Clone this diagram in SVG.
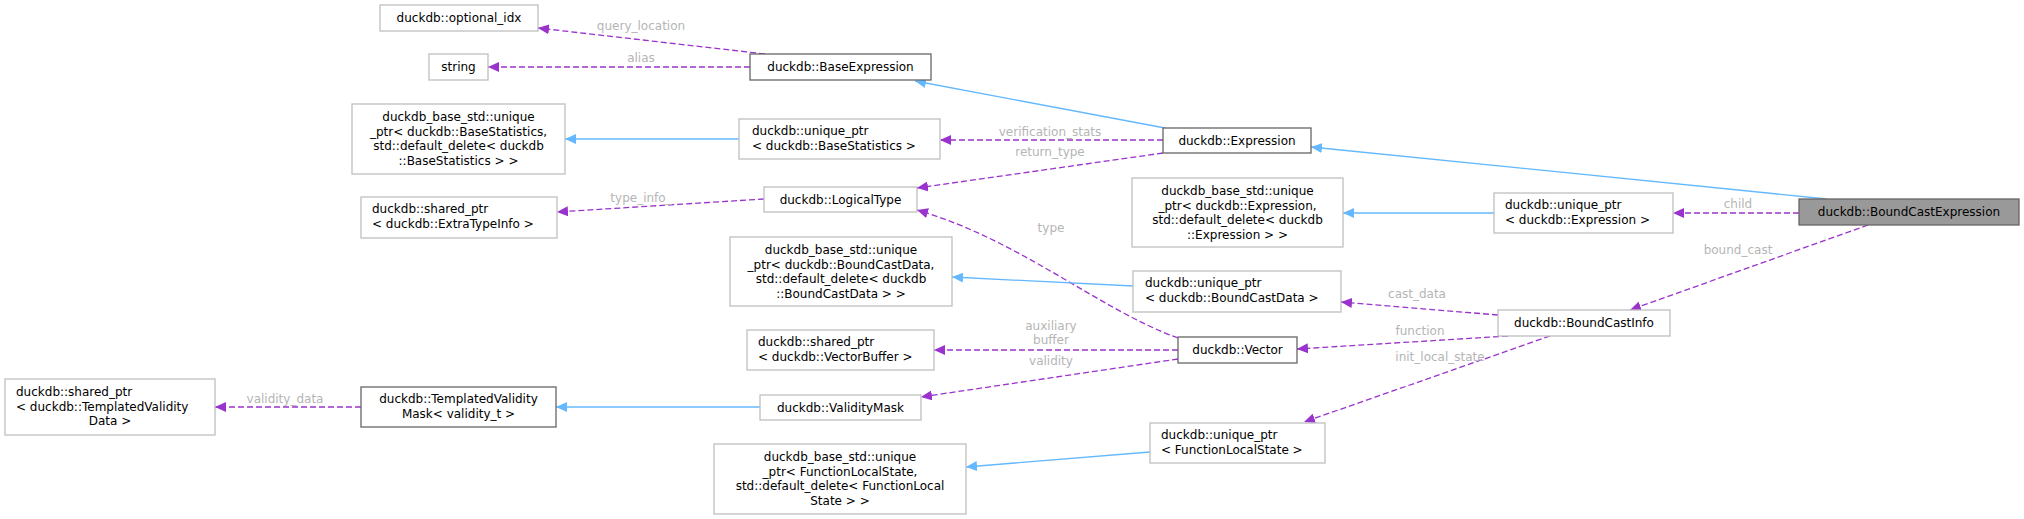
<svg xmlns="http://www.w3.org/2000/svg" width="2024" height="519" viewBox="0 0 2024 519">
<style>
text{font-family:"DejaVu Sans",sans-serif;font-size:12px;fill:#000}
.n rect{fill:#fff;stroke:#bfbfbf;stroke-width:1.3}
.d rect{stroke:#666}
.c{text-anchor:middle}
.e path{fill:none;stroke-width:1.3}
.b{stroke:#63b8ff}
.p{stroke:#9a32cd;stroke-dasharray:6,3}
.l{fill:#b5b5b5;text-anchor:middle}
</style>
<defs>
<marker id="ab" markerWidth="12" markerHeight="10" refX="11" refY="5" orient="auto" markerUnits="userSpaceOnUse"><path d="M0,0 L11,5 L0,10 z" fill="#63b8ff"/></marker>
<marker id="ap" markerWidth="12" markerHeight="10" refX="11" refY="5" orient="auto" markerUnits="userSpaceOnUse"><path d="M0,0 L11,5 L0,10 z" fill="#9a32cd"/></marker>
</defs>
<g class="e">
<path class="b" d="M1165,128 L915,81" marker-end="url(#ab)"/>
<path class="b" d="M1827,199 L1311,147" marker-end="url(#ab)"/>
<path class="p" d="M1163,140 L940,140" marker-end="url(#ap)"/>
<path class="p" d="M1163,153 L917,188" marker-end="url(#ap)"/>
<path class="b" d="M739,139 L565,139" marker-end="url(#ab)"/>
<path class="p" d="M764,199 L557,212" marker-end="url(#ap)"/>
<path class="p" d="M765,54 L538,28" marker-end="url(#ap)"/>
<path class="p" d="M750,67 L488,67" marker-end="url(#ap)"/>
<path class="p" d="M1178,338 C1100,310 1020,240 917,210" marker-end="url(#ap)"/>
<path class="b" d="M1133,286 L952,277" marker-end="url(#ab)"/>
<path class="p" d="M1178,350 L934,350" marker-end="url(#ap)"/>
<path class="p" d="M1178,359 L921,397" marker-end="url(#ap)"/>
<path class="b" d="M760,407 L556,407" marker-end="url(#ab)"/>
<path class="p" d="M361,407 L215,407" marker-end="url(#ap)"/>
<path class="b" d="M1150,452 L966,467" marker-end="url(#ab)"/>
<path class="b" d="M1494,213 L1343,213" marker-end="url(#ab)"/>
<path class="p" d="M1799,213 L1673,213" marker-end="url(#ap)"/>
<path class="p" d="M1868,225 L1630,310" marker-end="url(#ap)"/>
<path class="p" d="M1498,315 L1341,302" marker-end="url(#ap)"/>
<path class="p" d="M1508,336 L1297,349" marker-end="url(#ap)"/>
<path class="p" d="M1550,336 L1304,422" marker-end="url(#ap)"/>
<text class="l" x="1050" y="136">verification_stats</text>
<text class="l" x="1050" y="156">return_type</text>
<text class="l" x="641" y="202">type_info_</text>
<text class="l" x="641" y="30">query_location</text>
<text class="l" x="641" y="62">alias</text>
<text class="l" x="1051" y="232">type</text>
<text class="l" x="1051" y="330">auxiliary</text>
<text class="l" x="1051" y="344">buffer</text>
<text class="l" x="1051" y="365">validity</text>
<text class="l" x="285" y="403">validity_data</text>
<text class="l" x="1738" y="208">child</text>
<text class="l" x="1738" y="254">bound_cast</text>
<text class="l" x="1417" y="298">cast_data</text>
<text class="l" x="1420" y="335">function</text>
<text class="l" x="1440" y="361">init_local_state</text>
</g>
<g id="n1" class="n"><rect x="380" y="5" width="158" height="26"/><text class="c" x="459" y="22">duckdb::optional_idx</text></g>
<g id="n2" class="n"><rect x="429" y="54" width="59" height="26"/><text class="c" x="458.5" y="71">string</text></g>
<g id="n3" class="n d"><rect x="750" y="54" width="181" height="26"/><text class="c" x="840.5" y="71">duckdb::BaseExpression</text></g>
<g id="n4" class="n"><rect x="352" y="104" width="213" height="70"/><text class="c" x="458.5" y="121">duckdb_base_std::unique</text><text class="c" x="458.5" y="135.5">_ptr&lt; duckdb::BaseStatistics,</text><text class="c" x="458.5" y="150">std::default_delete&lt; duckdb</text><text class="c" x="458.5" y="164.5">::BaseStatistics &gt; &gt;</text></g>
<g id="n5" class="n"><rect x="739" y="119" width="201" height="40"/><text x="752" y="135">duckdb::unique_ptr</text><text x="752" y="150">&lt; duckdb::BaseStatistics &gt;</text></g>
<g id="n6" class="n d"><rect x="1163" y="128" width="148" height="25"/><text class="c" x="1237" y="145">duckdb::Expression</text></g>
<g id="n7" class="n"><rect x="361" y="197" width="196" height="41"/><text x="372" y="213">duckdb::shared_ptr</text><text x="372" y="228">&lt; duckdb::ExtraTypeInfo &gt;</text></g>
<g id="n8" class="n"><rect x="764" y="187" width="153" height="25"/><text class="c" x="840.5" y="204">duckdb::LogicalType</text></g>
<g id="n9" class="n"><rect x="1132" y="178" width="211" height="69"/><text class="c" x="1237.5" y="195">duckdb_base_std::unique</text><text class="c" x="1237.5" y="209.5">_ptr&lt; duckdb::Expression,</text><text class="c" x="1237.5" y="224">std::default_delete&lt; duckdb</text><text class="c" x="1237.5" y="238.5">::Expression &gt; &gt;</text></g>
<g id="n10" class="n"><rect x="1494" y="193" width="179" height="40"/><text x="1505" y="209">duckdb::unique_ptr</text><text x="1505" y="224">&lt; duckdb::Expression &gt;</text></g>
<g id="n11" class="n d"><rect x="1799" y="199" width="220" height="26" style="fill:#999"/><text class="c" x="1909" y="216">duckdb::BoundCastExpression</text></g>
<g id="n12" class="n"><rect x="730" y="237" width="222" height="69"/><text class="c" x="841" y="254">duckdb_base_std::unique</text><text class="c" x="841" y="268.5">_ptr&lt; duckdb::BoundCastData,</text><text class="c" x="841" y="283">std::default_delete&lt; duckdb</text><text class="c" x="841" y="297.5">::BoundCastData &gt; &gt;</text></g>
<g id="n13" class="n"><rect x="1133" y="271" width="208" height="41"/><text x="1145" y="287">duckdb::unique_ptr</text><text x="1145" y="302">&lt; duckdb::BoundCastData &gt;</text></g>
<g id="n14" class="n"><rect x="1498" y="310" width="172" height="26"/><text class="c" x="1584" y="327">duckdb::BoundCastInfo</text></g>
<g id="n15" class="n"><rect x="747" y="330" width="187" height="40"/><text x="758" y="346">duckdb::shared_ptr</text><text x="758" y="361">&lt; duckdb::VectorBuffer &gt;</text></g>
<g id="n16" class="n d"><rect x="1178" y="337" width="119" height="26"/><text class="c" x="1237.5" y="354">duckdb::Vector</text></g>
<g id="n17" class="n"><rect x="5" y="379" width="210" height="56"/><text x="16" y="396">duckdb::shared_ptr</text><text x="16" y="410.5">&lt; duckdb::TemplatedValidity</text><text class="c" x="110" y="425">Data &gt;</text></g>
<g id="n18" class="n d"><rect x="361" y="387" width="195" height="40"/><text class="c" x="458.5" y="403">duckdb::TemplatedValidity</text><text class="c" x="458.5" y="418">Mask&lt; validity_t &gt;</text></g>
<g id="n19" class="n"><rect x="760" y="395" width="161" height="25"/><text class="c" x="840.5" y="412">duckdb::ValidityMask</text></g>
<g id="n20" class="n"><rect x="1150" y="423" width="175" height="40"/><text x="1161" y="439">duckdb::unique_ptr</text><text x="1161" y="454">&lt; FunctionLocalState &gt;</text></g>
<g id="n21" class="n"><rect x="714" y="444" width="252" height="70"/><text class="c" x="840" y="461">duckdb_base_std::unique</text><text class="c" x="840" y="475.5">_ptr&lt; FunctionLocalState,</text><text class="c" x="840" y="490">std::default_delete&lt; FunctionLocal</text><text class="c" x="840" y="504.5">State &gt; &gt;</text></g>
</svg>
